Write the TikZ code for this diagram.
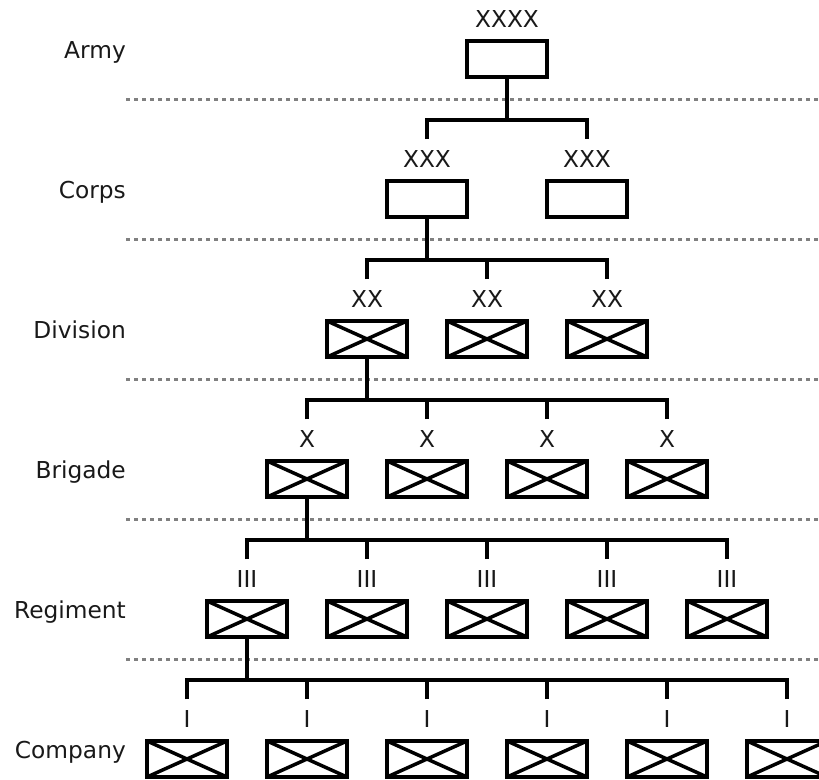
\documentclass[tikz,border=0pt]{standalone}
\usepackage{fontspec}
\setmainfont{DejaVu Sans}
\begin{document}
\begin{tikzpicture}[x=1pt,y=-1pt,
  unit/.style={draw, line width=4.2pt, minimum width=80pt, minimum height=36pt, inner sep=0pt, outer sep=0pt, fill=white},
  xunit/.style={unit, path picture={\draw[line width=3.5pt]
      (path picture bounding box.north west) -- (path picture bounding box.south east)
      (path picture bounding box.south west) -- (path picture bounding box.north east);}},
  conn/.style={line width=4pt},
  sep/.style={line width=3pt, dash pattern=on 4pt off 4pt, draw=black!50},
  ech/.style={anchor=base, inner sep=0pt, text=black!90, font=\fontsize{23.3}{28}\selectfont},
  rowname/.style={anchor=base east, inner sep=0pt, text=black!90, font=\fontsize{23.3}{28}\selectfont}]
\useasboundingbox (0,0) rectangle (819,779);

% separators
\foreach \r in {0,...,4}
  \draw[sep] (126,{99+140*\r}) -- (819,{99+140*\r});

% row names
\node[rowname] (t-army) at (126,58) {Army};
\node[rowname] (t-corps) at (126,198) {Corps};
\node[rowname] (t-div) at (126,338) {Division};
\node[rowname] (t-bde) at (126,478) {Brigade};
\node[rowname] (t-reg) at (126,618) {Regiment};
\node[rowname] (t-coy) at (126,758) {Company};

% army
\node[unit] (army-1) at (507,59) {};
\node[ech] (army-l1) at (507,27.5) {XXXX};

% corps
\node[unit] (corps-1) at (427,199) {};
\node[unit] (corps-2) at (587,199) {};
\node[ech] (corps-l1) at (427,167.5) {XXX};
\node[ech] (corps-l2) at (587,167.5) {XXX};
\coordinate (corps-bar) at (0,120);
\coordinate (corps-s1) at (427,139);
\coordinate (corps-s2) at (587,139);
\draw[conn] (corps-s1) -- (corps-s1 |- corps-bar) -- (corps-s2 |- corps-bar) -- (corps-s2);
\draw[conn] (army-1.south) -- (army-1.south |- corps-bar);

% lower echelons
\foreach \r/\n/\xo/\sym/\nm/\prt in {2/3/367/XX/div/corps-1, 3/4/307/X/bde/div-1, 4/5/247/III/reg/bde-1, 5/6/187/I/coy/reg-1} {
  \foreach \i in {1,...,\n} {
    \node[xunit] (\nm-\i) at ({\xo+120*(\i-1)},{59+140*\r}) {};
    \node[ech] (\nm-l\i) at ({\xo+120*(\i-1)},{27.5+140*\r}) {\sym};
    \coordinate (\nm-s\i) at ({\xo+120*(\i-1)},{139+140*(\r-1)});
  }
  \coordinate (\nm-bar) at (0,{120+140*(\r-1)});
  \draw[conn] (\nm-s1) -- (\nm-s1 |- \nm-bar) -- (\nm-s\n |- \nm-bar) -- (\nm-s\n);
  \foreach \i in {1,...,\n}
    \draw[conn] (\nm-s\i) -- (\nm-s\i |- \nm-bar);
  \draw[conn] (\prt.south) -- (\prt.south |- \nm-bar);
}
\end{tikzpicture}
\end{document}
